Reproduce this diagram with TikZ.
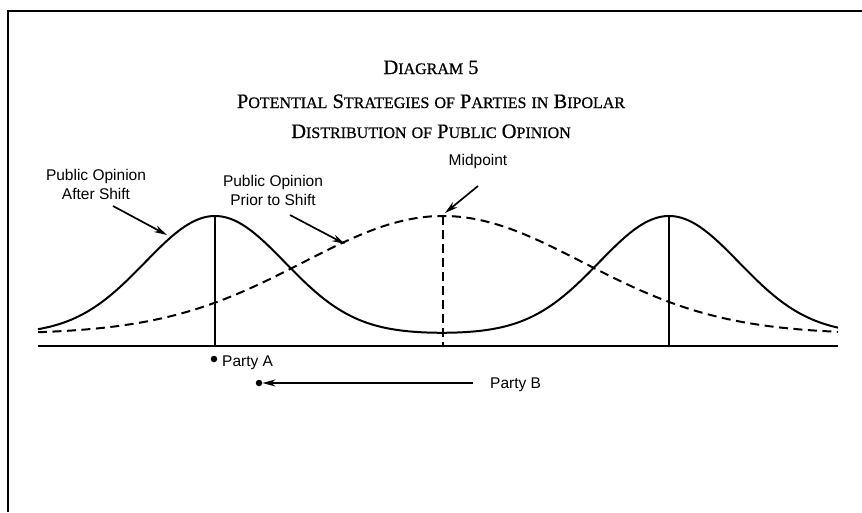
\documentclass[tikz,border=0pt]{standalone}
\usepackage{fontspec}
\newfontfamily\labfont{Liberation Sans}
\newfontfamily\ttlfont[FakeBold=0.7]{Liberation Serif}
\newcommand\SCx[2]{{\fontsize{20.5}{30}\selectfont #1}{\fontsize{16}{30}\selectfont\uppercase{#2}}}
\usetikzlibrary{arrows.meta}
\begin{document}
\begin{tikzpicture}[x=1pt,y=-1pt,
  lab/.style={font=\labfont\fontsize{15.5}{19}\selectfont, inner sep=0pt, align=center},
  ttl/.style={font=\ttlfont\fontsize{20.5}{30}\selectfont, inner sep=0pt, align=center},
  curve/.style={line width=2pt},
  dcurve/.style={line width=2pt, dash pattern=on 9pt off 5.5pt},
  axisline/.style={line width=2pt},
  peakline/.style={line width=1.6pt},
  arr/.style={line width=1.7pt, -{Stealth[length=13pt,width=7pt]}},
  dot/.style={circle, fill=black, inner sep=0pt, minimum size=6.5pt}]
\useasboundingbox (0,0) rectangle (862,512);
% frame
\draw[line width=2pt] (8,512) -- (8,11) -- (862,11);
% titles
\node[ttl, anchor=base] (t1) at (431,74) {\SCx{D}{iagram} \SCx{5}{}};
\node[ttl, anchor=base] (t2) at (431,108) {\SCx{P}{otential} \SCx{S}{trategies} \SCx{}{of} \SCx{P}{arties} \SCx{}{in} \SCx{B}{ipolar}};
\node[ttl, anchor=base] (t3) at (431,138) {\SCx{D}{istribution} \SCx{}{of} \SCx{P}{ublic} \SCx{O}{pinion}};
% axis
\coordinate (axL) at (38,346);
\coordinate (axR) at (838,346);
\draw[axisline] (axL) -- (axR);
% solid curves
\draw[curve] plot[domain=38:838, samples=241, smooth]
  (\x, {334 - 118*(exp(-min(((\x-215)/70)^2/2,20)) + exp(-min(((\x-669)/70)^2/2,20)))});
% dashed curve
\draw[dcurve] plot[domain=38:838, samples=161, smooth]
  (\x, {334 - 118*exp(-min(((\x-443)/140)^2/2,20))});
% peak lines
\coordinate (pA) at (215,216);
\coordinate (pB) at (669,216);
\coordinate (pM) at (443,216);
\draw[peakline] (pA) -- (pA |- axL);
\draw[peakline] (pB) -- (pB |- axL);
\draw[peakline, dash pattern=on 9pt off 5pt] (pM) -- (pM |- axL);
% labels
\node[lab] (after) at (96,184) {Public Opinion\\After Shift};
\node[lab] (prior) at (273,190) {Public Opinion\\Prior to Shift};
\node[lab, anchor=base] (mid) at (478,165) {Midpoint};
\coordinate (afterTail) at (113,206);
\coordinate (afterTip) at (167,235);
\coordinate (priorTail) at (290,215);
\coordinate (priorTip) at (345,244);
\coordinate (midTail) at (478,186);
\coordinate (midTip) at (445,213);
\draw[arr] (afterTail) -- (afterTip);
\draw[arr] (priorTail) -- (priorTip);
\draw[arr] (midTail) -- (midTip);
% parties
\node[dot] (dA) at (214,359) {};
\node[lab, anchor=base west] (partyA) at (222,366) {Party A};
\node[dot] (dB) at (259,383) {};
\node[lab, anchor=base west] (partyB) at (490,388) {Party B};
\coordinate (pbStart) at (473,383);
\draw[arr] (pbStart) -- (dB.east);
\end{tikzpicture}
\end{document}
